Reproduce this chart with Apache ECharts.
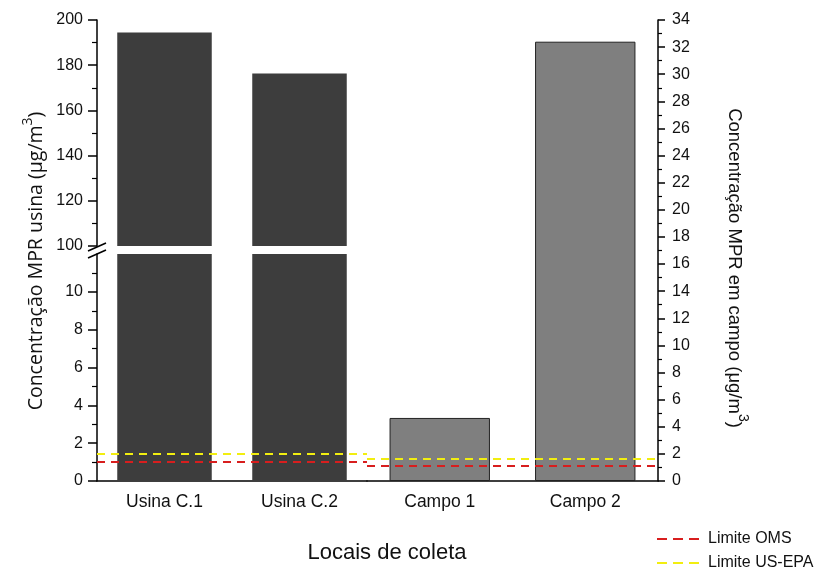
<!DOCTYPE html>
<html>
<head>
<meta charset="utf-8">
<script src="https://cdn.jsdelivr.net/npm/echarts@6/dist/echarts.min.js"></script>
<style>
  html, body { margin: 0; padding: 0; background: #fff; }
  #chart { width: 821px; height: 569px; }
</style>
</head>
<body>
<div id="chart"></div>
<script>
// Sampling sites and measured PM concentrations (µg/m³)
const plantCategories = ['Usina C.1', 'Usina C.2'];
const plantValues = [194.5, 176.3];
const fieldCategories = ['Campo 1', 'Campo 2'];
const fieldValues = [4.65, 32.4];

// Reference limits drawn on each panel (µg/m³, in each panel's own scale)
const limitNames = ['Limite OMS', 'Limite US-EPA'];
const plantLimits = [1.02, 1.45];
const fieldLimits = [1.12, 1.62];

// Axis tick labels
const plantUpperTicks = [100, 120, 140, 160, 180, 200];
const plantLowerTicks = [0, 2, 4, 6, 8, 10];

const FONT = 'Liberation Sans, Arial, sans-serif';
const TITLE_FONT = 'Open Sans, Noto Sans, sans-serif';
const limitColors = ['#d81e1e', '#f2ee10'];

const chart = echarts.init(document.getElementById('chart'), null, { renderer: 'canvas' });

const axisLineStyle = { color: '#000', width: 1.5 };
const tickLabelStyle = { color: '#111', fontFamily: FONT, fontSize: 16 };
const catLabelStyle = { color: '#111', fontFamily: FONT, fontSize: 17.5 };

function limitSeries(gridIdx, values) {
  return limitNames.map((name, i) => ({
    name: name,
    type: 'line',
    xAxisIndex: gridIdx,
    yAxisIndex: gridIdx,
    data: [],
    symbol: 'none',
    markLine: {
      silent: true,
      symbol: ['none', 'none'],
      label: { show: false },
      lineStyle: { color: limitColors[i], type: [8, 6], width: 2 },
      data: [{ yAxis: values[i] }]
    },
    z: 5
  }));
}

// legend entries: dashed sample + label
const legendGraphics = [];
limitNames.forEach((name, i) => {
  const y = 539 + i * 24;
  legendGraphics.push({
    type: 'line', shape: { x1: 657, y1: y, x2: 700, y2: y },
    style: { stroke: limitColors[i], lineWidth: 2, lineDash: [10, 6] }, z: 101
  });
  legendGraphics.push({
    type: 'text', x: 708, y: y, z: 101,
    style: { text: name, fontFamily: FONT, fontSize: 16, fill: '#111', align: 'left', verticalAlign: 'middle' }
  });
});

const option = {
  backgroundColor: '#fff',
  animation: false,
  grid: [
    { left: 97, top: 20, width: 270, height: 226 },
    { left: 97, top: 254, width: 270, height: 227 },
    { left: 367, top: 20, width: 291, height: 461 }
  ],
  xAxis: [
    { gridIndex: 0, type: 'category', data: plantCategories, show: false },
    {
      gridIndex: 1, type: 'category', data: plantCategories,
      axisLine: { lineStyle: axisLineStyle },
      axisTick: { alignWithLabel: true, length: 6, lineStyle: { color: '#000', width: 1.5 } },
      axisLabel: Object.assign({ margin: 12 }, catLabelStyle)
    },
    {
      gridIndex: 2, type: 'category', data: fieldCategories,
      axisLine: { lineStyle: axisLineStyle },
      axisTick: { alignWithLabel: true, length: 6, lineStyle: { color: '#000', width: 1.5 } },
      axisLabel: Object.assign({ margin: 12 }, catLabelStyle)
    }
  ],
  yAxis: [
    {
      gridIndex: 0, type: 'value', min: 100, max: 200, interval: 20,
      axisLine: { show: true, lineStyle: axisLineStyle },
      axisTick: { show: true, length: 9, lineStyle: { color: '#000', width: 1.5 } },
      minorTick: { show: true, splitNumber: 2, length: 5, lineStyle: { color: '#000', width: 1.2 } },
      axisLabel: Object.assign({ margin: 14, customValues: plantUpperTicks }, tickLabelStyle),
      splitLine: { show: false }
    },
    {
      gridIndex: 1, type: 'value', min: 0, max: 12, interval: 2,
      axisLine: { show: true, lineStyle: axisLineStyle },
      axisTick: { show: true, length: 9, customValues: plantLowerTicks, lineStyle: { color: '#000', width: 1.5 } },
      minorTick: { show: true, splitNumber: 2, length: 5, lineStyle: { color: '#000', width: 1.2 } },
      axisLabel: Object.assign({ margin: 14, customValues: plantLowerTicks }, tickLabelStyle),
      splitLine: { show: false }
    },
    {
      gridIndex: 2, type: 'value', position: 'right', min: 0, max: 34, interval: 2,
      axisLine: { show: true, lineStyle: axisLineStyle },
      axisTick: { show: true, length: 7, lineStyle: { color: '#000', width: 1.5 } },
      minorTick: { show: true, splitNumber: 2, length: 4, lineStyle: { color: '#000', width: 1.2 } },
      axisLabel: Object.assign({ margin: 14 }, tickLabelStyle),
      splitLine: { show: false }
    }
  ],
  series: [
    {
      type: 'bar', xAxisIndex: 0, yAxisIndex: 0, data: plantValues, barWidth: '70%',
      itemStyle: { color: '#3d3d3d' }
    },
    {
      type: 'bar', xAxisIndex: 1, yAxisIndex: 1, data: plantValues, barWidth: '70%',
      itemStyle: { color: '#3d3d3d' }
    },
    {
      type: 'bar', xAxisIndex: 2, yAxisIndex: 2, data: fieldValues, barWidth: '69%',
      itemStyle: { color: '#7f7f7f', borderColor: '#222', borderWidth: 1 }
    }
  ].concat(limitSeries(1, plantLimits), limitSeries(2, fieldLimits)),
  graphic: [
    // axis break on the left scale
    { type: 'rect', shape: { x: 92, y: 247, width: 10, height: 6 }, style: { fill: '#fff' }, z: 100 },
    { type: 'line', shape: { x1: 88, y1: 251, x2: 106, y2: 243 }, style: { stroke: '#000', lineWidth: 1.5 }, z: 101 },
    { type: 'line', shape: { x1: 88, y1: 258, x2: 106, y2: 250 }, style: { stroke: '#000', lineWidth: 1.5 }, z: 101 },
    // axis titles
    {
      type: 'text', x: 34, y: 261, rotation: Math.PI / 2, z: 101,
      style: {
        text: '{a|Concentração MPR usina (μg/m}{s|3}{a|)}',
        align: 'center', verticalAlign: 'middle',
        rich: {
          a: { fontFamily: TITLE_FONT, fontSize: 19.5, fill: '#111', verticalAlign: 'bottom' },
          s: { fontFamily: TITLE_FONT, fontSize: 14, fill: '#111', verticalAlign: 'bottom', padding: [0, 0, 11, 0] }
        }
      }
    },
    {
      type: 'text', x: 737, y: 268, rotation: -Math.PI / 2, z: 101,
      style: {
        text: '{a|Concentração MPR em campo (μg/m}{s|3}{a|)}',
        align: 'center', verticalAlign: 'middle',
        rich: {
          a: { fontFamily: FONT, fontSize: 18.5, fill: '#111', verticalAlign: 'bottom' },
          s: { fontFamily: FONT, fontSize: 14, fill: '#111', verticalAlign: 'bottom', padding: [0, 0, 11, 0] }
        }
      }
    },
    {
      type: 'text', x: 387, y: 553, z: 101,
      style: { text: 'Locais de coleta', fontFamily: FONT, fontSize: 22, fill: '#111', align: 'center', verticalAlign: 'middle' }
    }
  ].concat(legendGraphics)
};

chart.setOption(option);
</script>
</body>
</html>
